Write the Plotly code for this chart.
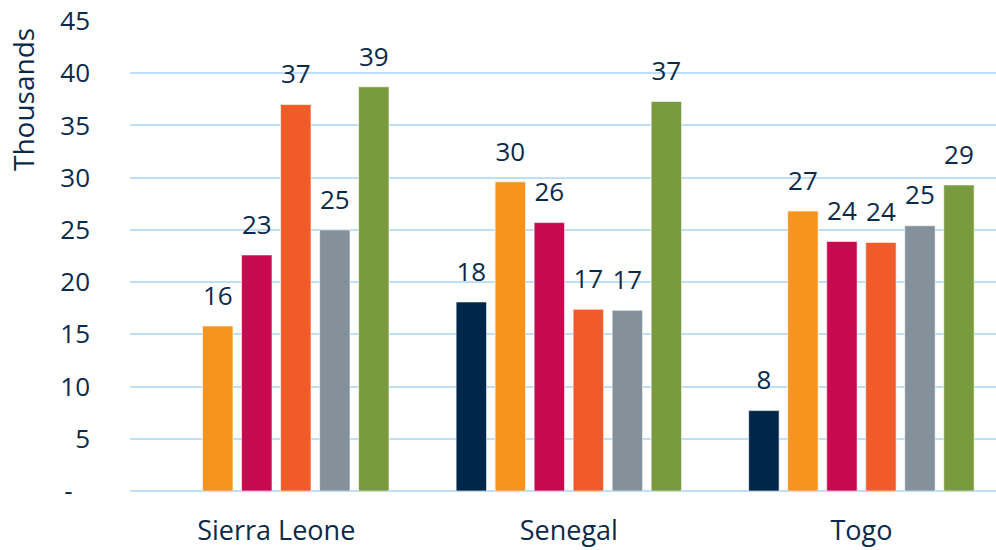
import plotly.graph_objects as go

categories = ["Sierra Leone", "Senegal", "Togo"]
series_names = ["Series 1", "Series 2", "Series 3", "Series 4", "Series 5", "Series 6"]
series_values = [
    [None, 18.1, 7.7],
    [15.8, 29.6, 26.8],
    [22.6, 25.7, 23.9],
    [37.0, 17.4, 23.8],
    [25.0, 17.3, 25.4],
    [38.7, 37.3, 29.3],
]
colors = ["#002749", "#F7941D", "#C8094F", "#F15A29", "#85919A", "#7A9A40"]
y_tickvals = [0, 5, 10, 15, 20, 25, 30, 35, 40, 45]
y_ticktext = ["-\u2002\u2009", "5", "10", "15", "20", "25", "30", "35", "40", "45"]

FONT = "Open Sans"
NAVY = "#0B2A4A"

fig = go.Figure()
for name, vals, col in zip(series_names, series_values, colors):
    fig.add_trace(go.Bar(
        x=categories, y=vals, name=name, offsetgroup=name,
        marker=dict(color=col, line=dict(color="rgba(255,255,255,0.6)", width=1)),
        hoverinfo="skip",
    ))
for name, vals in zip(series_names, series_values):
    fig.add_trace(go.Scatter(
        x=categories, y=vals, name=name + " label", offsetgroup=name,
        mode="markers+text", marker=dict(size=22, color="rgba(0,0,0,0)"),
        texttemplate="%{y:.0f}", textposition="top center", cliponaxis=False,
        textfont=dict(family=FONT, size=26, color=NAVY),
    ))

fig.update_layout(
    width=996, height=550,
    margin=dict(l=130, r=0, t=21, b=59),
    barmode="group", bargap=0.2, bargroupgap=0.22,
    scattermode="group", scattergap=0.2,
    plot_bgcolor="white", paper_bgcolor="white",
    showlegend=False,
    font=dict(family=FONT, color=NAVY),
    xaxis=dict(
        type="category", range=[-0.5, 2.46], automargin=False,
        showgrid=False, showline=False, zeroline=False,
        tickfont=dict(family=FONT, size=27, color=NAVY),
        ticks="", ticklabelstandoff=21,
    ),
    yaxis=dict(
        range=[0, 45], tickvals=y_tickvals, ticktext=y_ticktext, automargin=False,
        showgrid=True, gridcolor="#BEDFF7", gridwidth=1.5,
        zeroline=True, zerolinecolor="#BEDFF7", zerolinewidth=2,
        showline=False, ticks="", ticklabelstandoff=39,
        tickfont=dict(family=FONT, size=26, color=NAVY),
    ),
    annotations=[dict(
        text="Thousands", textangle=-90, xref="paper", yref="paper",
        x=(23 - 130) / 866, y=1 - (100 - 21) / 470, xanchor="center", yanchor="middle",
        showarrow=False, font=dict(family=FONT, size=28, color=NAVY),
    )],
)

fig.write_html("out.html")
